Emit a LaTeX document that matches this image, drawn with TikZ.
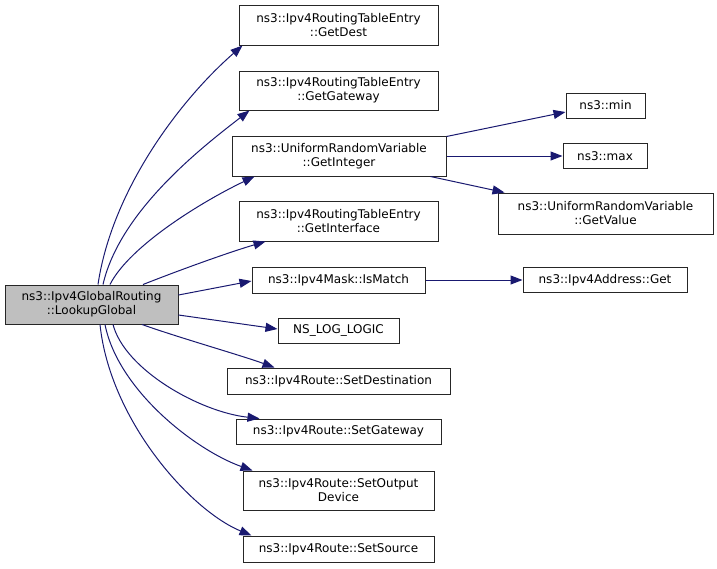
\documentclass[tikz,border=0pt]{standalone}
\usepackage{fontspec}
\setmainfont{DejaVu Sans}
\usetikzlibrary{arrows.meta}
\definecolor{edgecol}{HTML}{191970}
\begin{document}
\begin{tikzpicture}[x=1pt,y=-1pt,
  box/.style={draw=black!85,line width=1pt,fill=white,inner sep=0pt,align=center,
    font=\fontsize{12}{14}\selectfont},
  edge/.style={draw=edgecol,line width=1pt,-{Triangle[length=12pt,width=9pt]}}]
\useasboundingbox (0,0) rectangle (717,568);
\node[box,fill={rgb,255:red,191;green,191;blue,191},minimum width=173pt,minimum height=39pt] (main) at (91.5,304.5) {ns3::Ipv4GlobalRouting\\::LookupGlobal};
\node[box,minimum width=199pt,minimum height=40pt] (dest) at (338.5,25) {ns3::Ipv4RoutingTableEntry\\::GetDest};
\node[box,minimum width=199pt,minimum height=39pt] (gw) at (338.5,90.5) {ns3::Ipv4RoutingTableEntry\\::GetGateway};
\node[box,minimum width=214pt,minimum height=40pt] (gint) at (339,156) {ns3::UniformRandomVariable\\::GetInteger};
\node[box,minimum width=199pt,minimum height=40pt] (gif) at (338.5,221) {ns3::Ipv4RoutingTableEntry\\::GetInterface};
\node[box,minimum width=173pt,minimum height=26pt] (ism) at (338.5,280) {ns3::Ipv4Mask::IsMatch};
\node[box,minimum width=121pt,minimum height=25pt] (nslog) at (338.5,330.5) {NS\_LOG\_LOGIC};
\node[box,minimum width=223pt,minimum height=26pt] (sdest) at (338.5,381) {ns3::Ipv4Route::SetDestination};
\node[box,minimum width=205pt,minimum height=25pt] (sgw) at (338.5,431.5) {ns3::Ipv4Route::SetGateway};
\node[box,minimum width=191pt,minimum height=39pt] (sod) at (338.5,490.5) {ns3::Ipv4Route::SetOutput\\Device};
\node[box,minimum width=191pt,minimum height=26pt] (ssrc) at (338.5,549) {ns3::Ipv4Route::SetSource};
\node[box,minimum width=79pt,minimum height=25pt] (min) at (605.5,105.5) {ns3::min};
\node[box,minimum width=84pt,minimum height=25pt] (max) at (605,156) {ns3::max};
\node[box,minimum width=215pt,minimum height=41pt] (gval) at (605.5,213.5) {ns3::UniformRandomVariable\\::GetValue};
\node[box,minimum width=164pt,minimum height=25pt] (aget) at (605,280) {ns3::Ipv4Address::Get};
% edges from main
\draw[edge] ([xshift=6.5pt]main.north) .. controls (112,190) and (180,100) .. ([xshift=4pt]dest.south west);
\draw[edge] ([xshift=11.5pt]main.north) .. controls (120,210) and (205,145) .. ([xshift=11pt]gw.south west);
\draw[edge] ([xshift=18.5pt]main.north) .. controls (130,245) and (205,200) .. ([xshift=23pt]gint.south west);
\draw[edge] ([xshift=51.5pt]main.north) .. controls (185,268) and (230,252) .. ([xshift=27pt]gif.south west);
\draw[edge] ([yshift=9.5pt]main.east) -- ([yshift=-1pt]ism.west);
\draw[edge] ([yshift=-10.5pt]main.east) -- ([yshift=1.5pt]nslog.west);
\draw[edge] ([xshift=50.5pt]main.south) .. controls (180,338) and (240,355) .. ([xshift=48pt]sdest.north west);
\draw[edge] ([xshift=21.5pt]main.south) .. controls (125,370) and (200,412) .. ([xshift=24pt]sgw.north west);
\draw[edge] ([xshift=13.5pt]main.south) .. controls (118,390) and (195,450) .. ([xshift=10pt]sod.north west);
\draw[edge] ([xshift=8.5pt]main.south) .. controls (110,420) and (190,510) .. ([xshift=9pt]ssrc.north west);
% edges from GetInteger and IsMatch
\draw[edge] ([yshift=-1pt]gint.north east) -- ([yshift=-6.5pt]min.west);
\draw[edge] (gint.east) -- (max.west);
\draw[edge] ([xshift=-16pt]gint.south east) -- ([xshift=7pt]gval.north west);
\draw[edge] (ism.east) -- (aget.west);
\end{tikzpicture}
\end{document}
